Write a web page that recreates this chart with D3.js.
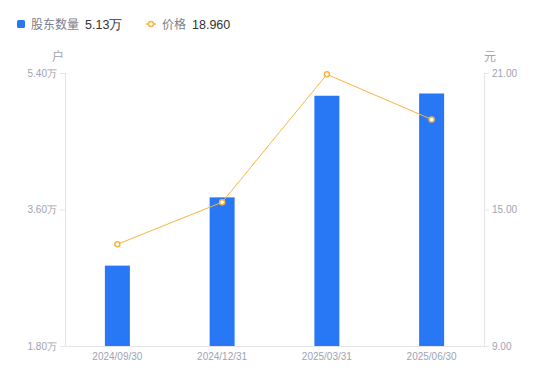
<!DOCTYPE html>
<html>
<head>
<meta charset="utf-8">
<script src="https://cdn.jsdelivr.net/npm/d3@7"></script>
<style>
  body { margin: 0; background: #fff; }
  svg { display: block; font-family: "Noto Sans CJK SC", "Noto Sans", sans-serif; }
</style>
</head>
<body>
<svg id="chart" width="550" height="381"></svg>
<script>
// Data
const dates = ["2024/09/30", "2024/12/31", "2025/03/31", "2025/06/30"];
const holders = [2.86, 3.76, 5.10, 5.13];   // 万户
const prices = [13.47, 15.32, 20.94, 18.96]; // 元
const leftTicks = [1.80, 3.60, 5.40];
const rightTicks = [9.00, 15.00, 21.00];

const margin = { top: 73, right: 66, bottom: 35, left: 65 };
const width = 550 - margin.left - margin.right;
const height = 381 - margin.top - margin.bottom;

const barColor = "#2878f6";
const lineColor = "#f9b540";
const labelColor = "#a0a3b1";
const axisColor = "#e3e4e8";
const numFont = "Liberation Sans, Arial, sans-serif";

const svg = d3.select("#chart");
const g = svg.append("g")
  .attr("transform", "translate(" + margin.left + "," + margin.top + ")");

// Scales
const x = d3.scaleBand().domain(dates).range([0, width]);
const yLeft = d3.scaleLinear().domain([1.80, 5.40]).range([height, 0]);
const yRight = d3.scaleLinear().domain([9, 21]).range([height, 0]);

// Axes
const leftAxis = g.append("g")
  .call(d3.axisLeft(yLeft).tickValues(leftTicks).tickSize(5).tickPadding(3)
    .tickFormat(d => d3.format(".2f")(d) + "万"));
const rightAxis = g.append("g")
  .attr("transform", "translate(" + width + ",0)")
  .call(d3.axisRight(yRight).tickValues(rightTicks).tickSize(5).tickPadding(3)
    .tickFormat(d3.format(".2f")));
const bottomAxis = g.append("g")
  .attr("transform", "translate(0," + height + ")")
  .call(d3.axisBottom(x).tickSize(0).tickPadding(7));

[leftAxis, rightAxis, bottomAxis].forEach(a => {
  a.select(".domain").attr("stroke", axisColor);
  a.selectAll(".tick line").attr("stroke", axisColor);
  a.selectAll("text").attr("fill", labelColor).style("font-size", "10px")
    .style("font-family", numFont);
});

// Unit labels
g.append("text").attr("x", -7).attr("y", -12).attr("text-anchor", "middle")
  .attr("fill", labelColor).style("font-size", "12px").text("户");
g.append("text").attr("x", width + 6).attr("y", -12).attr("text-anchor", "middle")
  .attr("fill", labelColor).style("font-size", "12px").text("元");

// Bars
const barWidth = 25;
g.selectAll(".bar")
  .data(holders)
  .enter()
  .append("rect")
  .attr("class", "bar")
  .attr("x", (d, i) => x(dates[i]) + x.bandwidth() / 2 - barWidth / 2)
  .attr("y", d => yLeft(d))
  .attr("width", barWidth)
  .attr("height", d => height - yLeft(d))
  .attr("fill", barColor);

// Price line
const line = d3.line()
  .x((d, i) => x(dates[i]) + x.bandwidth() / 2)
  .y(d => yRight(d));
g.append("path")
  .datum(prices)
  .attr("d", line)
  .attr("fill", "none")
  .attr("stroke", lineColor)
  .attr("stroke-width", 1);
g.selectAll(".pt")
  .data(prices)
  .enter()
  .append("circle")
  .attr("class", "pt")
  .attr("cx", (d, i) => x(dates[i]) + x.bandwidth() / 2)
  .attr("cy", d => yRight(d))
  .attr("r", 2.5)
  .attr("fill", "#fff")
  .attr("stroke", lineColor)
  .attr("stroke-width", 1.5);

// Legend
const legend = svg.append("g").style("font-size", "12px");
legend.append("rect").attr("x", 17).attr("y", 20).attr("width", 8).attr("height", 8)
  .attr("rx", 1.5).attr("fill", barColor);
legend.append("text").attr("x", 31).attr("y", 29).attr("fill", "#7b7e8c").text("股东数量");
legend.append("text").attr("x", 85).attr("y", 29).attr("fill", "#333")
  .style("font-family", numFont).style("font-size", "12.5px").text("5.13万");
legend.append("line").attr("x1", 146).attr("x2", 156).attr("y1", 24).attr("y2", 24)
  .attr("stroke", lineColor).attr("stroke-width", 1.5);
legend.append("circle").attr("cx", 151).attr("cy", 24).attr("r", 2.5)
  .attr("fill", "#fff").attr("stroke", lineColor).attr("stroke-width", 1.5);
legend.append("text").attr("x", 162).attr("y", 29).attr("fill", "#7b7e8c").text("价格");
legend.append("text").attr("x", 192).attr("y", 29).attr("fill", "#333")
  .style("font-family", numFont).style("font-size", "12.5px").text("18.960");
</script>
</body>
</html>
